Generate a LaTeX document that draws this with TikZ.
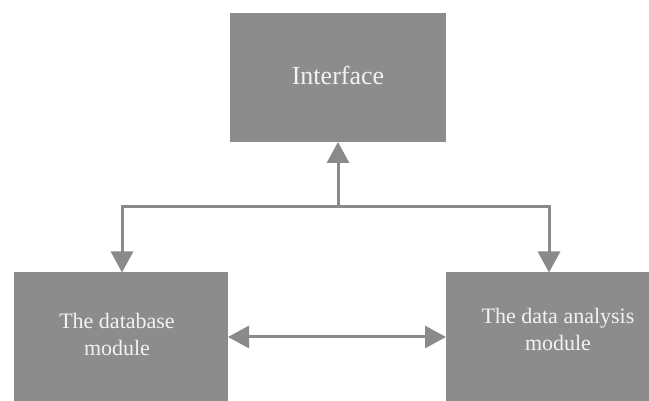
\documentclass[tikz,border=0pt]{standalone}
\usepackage{fontspec}
\setmainfont{Liberation Serif}
\usetikzlibrary{arrows.meta}
\definecolor{boxgray}{HTML}{8C8C8C}
\definecolor{linegray}{HTML}{8A8A8A}
\definecolor{txtwhite}{HTML}{F2F2F2}
\begin{document}
\begin{tikzpicture}[x=1pt,y=1pt,
  boxstyle/.style={draw=none,fill=boxgray,inner sep=0pt,outer sep=0pt},
  lbl/.style={text=txtwhite,align=center,inner sep=0pt,font=\rmfamily\fontsize{22}{27}\selectfont},
  conn/.style={draw=linegray,line width=3pt,-{Triangle[length=21pt,width=22pt]}},
  conn2/.style={draw=linegray,line width=3pt,{Triangle[length=21pt,width=22pt]}-{Triangle[length=21pt,width=22pt]}}]
\useasboundingbox (0,0) rectangle (649,-401);
\clip (0,0) rectangle (649,-401);
\fill[white] (0,0) rectangle (649,-401);
\node[boxstyle,minimum width=216pt,minimum height=129pt] (iface) at (338,-77.5) {};
\node[boxstyle,minimum width=214pt,minimum height=140pt] (db) at (121,-342.5) {};
\node[boxstyle,minimum width=215pt,minimum height=140pt] (da) at (553.5,-342.5) {};
\node[lbl,font=\rmfamily\fontsize{26}{30}\selectfont] (tiface) at (338,-75) {Interface};
\node[lbl] (tdb) at (117,-334) {The database\\module};
\node[lbl] (tda) at (558,-329) {The data analysis\\module};
\coordinate (jc) at (338,-207);
\coordinate (jl) at (122,-207);
\coordinate (jr) at (549,-207);
\coordinate (hl) at (228,-337);
\coordinate (hr) at (446,-337);
\draw[conn] (jc) -- (iface.south);
\draw[draw=linegray,line width=3pt] (jl) -- (jr);
\draw[conn] ([xshift=-1.5pt]jl) -- ++(1.5pt,0) -- (jl |- db.north);
\draw[conn] ([xshift=1.5pt]jr) -- ++(-1.5pt,0) -- (jr |- da.north);
\draw[conn2] (hl) -- (hr);
\end{tikzpicture}
\end{document}
